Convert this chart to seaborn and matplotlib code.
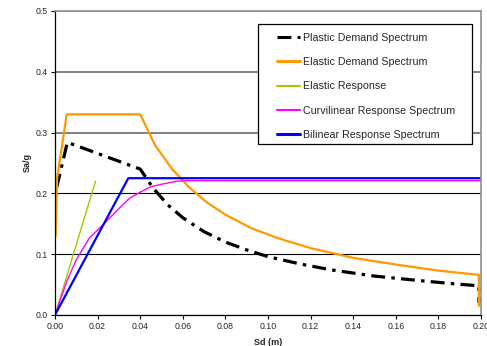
import matplotlib
matplotlib.use("Agg")
import matplotlib.pyplot as plt
from matplotlib.patches import Rectangle
import seaborn as sns
import pandas as pd

# ---- data ----
plastic_sd = [0.0008, 0.0058, 0.040, 0.046, 0.053, 0.060, 0.070, 0.080, 0.090, 0.100,
              0.115, 0.130, 0.150, 0.170, 0.185, 0.199, 0.199]
plastic_sa = [0.210, 0.284, 0.240, 0.209, 0.181, 0.160, 0.137, 0.120, 0.107, 0.096,
              0.084, 0.074, 0.064, 0.057, 0.052, 0.048, 0.020]

elastic_sd = [0.0003, 0.0010, 0.0055, 0.040, 0.047, 0.055, 0.063, 0.071, 0.080, 0.092,
              0.105, 0.120, 0.140, 0.160, 0.180, 0.199, 0.199]
elastic_sa = [0.130, 0.225, 0.330, 0.330, 0.279, 0.240, 0.210, 0.186, 0.165, 0.143,
              0.126, 0.110, 0.094, 0.083, 0.073, 0.066, 0.015]

resp_sd = [0.0, 0.0190]
resp_sa = [0.0, 0.220]

curv_sd = [0.0, 0.0055, 0.010, 0.016, 0.023, 0.030, 0.035, 0.040, 0.045, 0.050, 0.057, 0.062, 0.200]
curv_sa = [0.0, 0.055, 0.091, 0.126, 0.150, 0.175, 0.192, 0.202, 0.211, 0.215, 0.220, 0.221, 0.221]

bilin_sd = [0.0, 0.0344, 0.200]
bilin_sa = [0.0, 0.2250, 0.2250]

series_names = ["Plastic Demand Spectrum", "Elastic Demand Spectrum", "Elastic Response",
                "Curvilinear Response Spectrum", "Bilinear Response Spectrum"]
x_ticks = [0.00, 0.02, 0.04, 0.06, 0.08, 0.10, 0.12, 0.14, 0.16, 0.18, 0.20]
y_ticks = [0.0, 0.1, 0.2, 0.3, 0.4, 0.5]

sns.set_style("white")
plt.rcParams['font.family'] = ['Liberation Sans', 'DejaVu Sans']
plt.rcParams['lines.scale_dashes'] = False

fig = plt.figure(figsize=(4.87, 3.46), dpi=100)
ax = fig.add_axes([55/487, 31/346, 426/487, 304/346])

def mk(sd, sa, name):
    return pd.DataFrame({"Sd": sd, "Sa": sa, "name": name})

styles = [
    (plastic_sd, plastic_sa, series_names[0], "black", 2.3),
    (elastic_sd, elastic_sa, series_names[1], "#FF9900", 1.6),
    (resp_sd, resp_sa, series_names[2], "#99CC00", 1.0),
    (curv_sd, curv_sa, series_names[3], "#FF00FF", 1.0),
    (bilin_sd, bilin_sa, series_names[4], "#0000FF", 1.6),
]
for sd, sa, name, color, lw in styles:
    sns.lineplot(data=mk(sd, sa, name), x="Sd", y="Sa", sort=False, estimator=None,
                 color=color, lw=lw, ax=ax, label=name)

ax.lines[0].set_dashes((10, 4.5, 2.5, 4.5))

ax.set_xlim(0, 0.2)
ax.set_ylim(0, 0.5)
ax.set_xticks(x_ticks)
ax.set_yticks(y_ticks)
ax.set_xticklabels([f"{v:.2f}" for v in x_ticks])
ax.set_yticklabels([f"{v:.1f}" for v in y_ticks])
ax.tick_params(axis='both', which='major', labelsize=6.3, direction='out', length=3,
               width=0.8, color='black', pad=2, bottom=True, left=True)

ax.yaxis.grid(True, color='black', lw=0.8)
for gl, v in zip(ax.get_ygridlines(), y_ticks):
    if v >= 0.3:
        gl.set_color('#808080')
        gl.set_linewidth(1.4)
ax.set_axisbelow(True)

for s in ['top', 'right']:
    ax.spines[s].set_color('#909090')
    ax.spines[s].set_linewidth(1.2)
for s in ['left', 'bottom']:
    ax.spines[s].set_color('black')
    ax.spines[s].set_linewidth(0.9)

ax.set_xlabel("Sd (m)", fontsize=6.5, fontweight='bold', labelpad=5)
ax.set_ylabel("Sa/g", fontsize=6.5, fontweight='bold', labelpad=3)

# legend frame (wider horizontal padding than vertical, as in the reference)
frame = Rectangle((0.4765, 0.5625), 0.5025, 0.3945, transform=ax.transAxes,
                  facecolor='white', edgecolor='black', lw=0.9, zorder=4.5)
ax.add_patch(frame)

leg = ax.legend(loc='upper left', bbox_to_anchor=(0.521, 0.928), fontsize=7.7,
                frameon=False, handlelength=2.2, handletextpad=0.25, labelspacing=1.33,
                borderpad=0, borderaxespad=0)
leg.set_zorder(5)
for h in leg.get_lines():
    h.set_linewidth(2.2 if h.get_color() in ('black', '#0000FF', '#FF9900') else 1.5)

fig.savefig("out.png", dpi=100)
